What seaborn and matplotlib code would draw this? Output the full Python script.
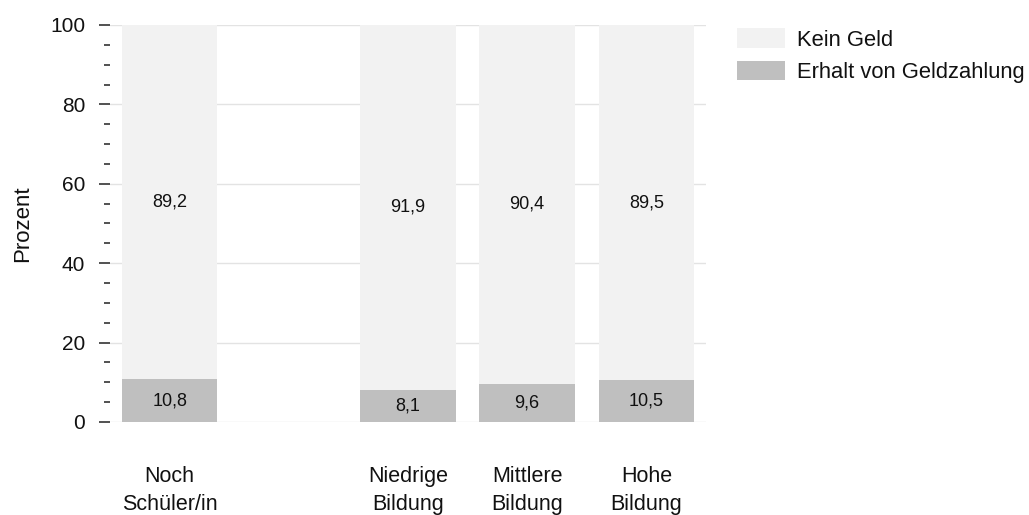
import pandas as pd
import matplotlib
matplotlib.use("Agg")
import matplotlib.pyplot as plt
from matplotlib.ticker import MultipleLocator
import seaborn as sns

# slot order, the blank entry keeps an empty gap after the first bar
slots = ["Noch\nSchüler/in", " ", "Niedrige\nBildung", "Mittlere\nBildung", "Hohe\nBildung"]
groups = ["Noch\nSchüler/in", "Niedrige\nBildung", "Mittlere\nBildung", "Hohe\nBildung"]
erhalt = [10.8, 8.1, 9.6, 10.5]
kein_geld = [89.2, 91.9, 90.4, 89.5]

series_labels = ["Kein Geld", "Erhalt von Geldzahlung"]
col_kein = "#f2f2f2"
col_erhalt = "#bfbfbf"
txt = "#111111"

df = pd.DataFrame({"Gruppe": groups, "Erhalt": erhalt, "Kein": kein_geld})

sns.set_theme(style="white")
plt.rcParams["font.family"] = ["Liberation Sans", "DejaVu Sans"]
plt.rcParams["text.color"] = txt
plt.rcParams["axes.labelcolor"] = txt

fig = plt.figure(figsize=(10.29, 5.15), dpi=100)
ax = fig.add_axes([0.107, 0.1806, 0.579, 0.7709])

# bottom segment
sns.barplot(data=df, x="Gruppe", y="Erhalt", order=slots, color=col_erhalt,
            saturation=1, width=0.8, linewidth=0, ax=ax, zorder=2)
# top segment stacked on the bottom one
sns.barplot(data=df, x="Gruppe", y="Kein", order=slots, color=col_kein,
            saturation=1, width=0.8, linewidth=0, ax=ax, zorder=2,
            bottom=df["Erhalt"].to_numpy())

fmt = lambda v: f"{v:.1f}".replace(".", ",")
ax.bar_label(ax.containers[0], labels=[fmt(v) for v in erhalt],
             label_type="center", fontsize=13, color=txt)
ax.bar_label(ax.containers[1], labels=[fmt(v) for v in kein_geld],
             label_type="center", fontsize=13, color=txt)

ax.set_xlim(-0.5, 4.5)
ax.set_ylim(0, 100)
ax.yaxis.set_major_locator(MultipleLocator(20))
ax.yaxis.set_minor_locator(MultipleLocator(5))
ax.grid(axis="y", color="#e3e3e3", linewidth=1)
ax.set_axisbelow(True)
sns.despine(ax=ax, left=True, bottom=True)

ax.tick_params(axis="y", which="major", left=True, length=8, width=1.1,
               color="#222222", labelsize=15, labelcolor=txt, pad=10)
ax.tick_params(axis="y", which="minor", left=True, length=4, width=1.1,
               color="#222222")
ax.tick_params(axis="x", length=0, labelsize=15.5, labelcolor=txt, pad=32)
for t in ax.get_xticklabels():
    t.set_linespacing(1.4)

ax.set_xlabel("")
ax.set_ylabel("Prozent", fontsize=16, labelpad=12)

handles = [ax.containers[1], ax.containers[0]]
fig.legend(handles, series_labels, loc="upper left",
           bbox_to_anchor=(0.716, 0.945), frameon=False, fontsize=15.8,
           handlelength=2.2, handleheight=1.0, handletextpad=0.55,
           labelspacing=0.45, borderpad=0, borderaxespad=0)

fig.savefig("out.png", dpi=100)
